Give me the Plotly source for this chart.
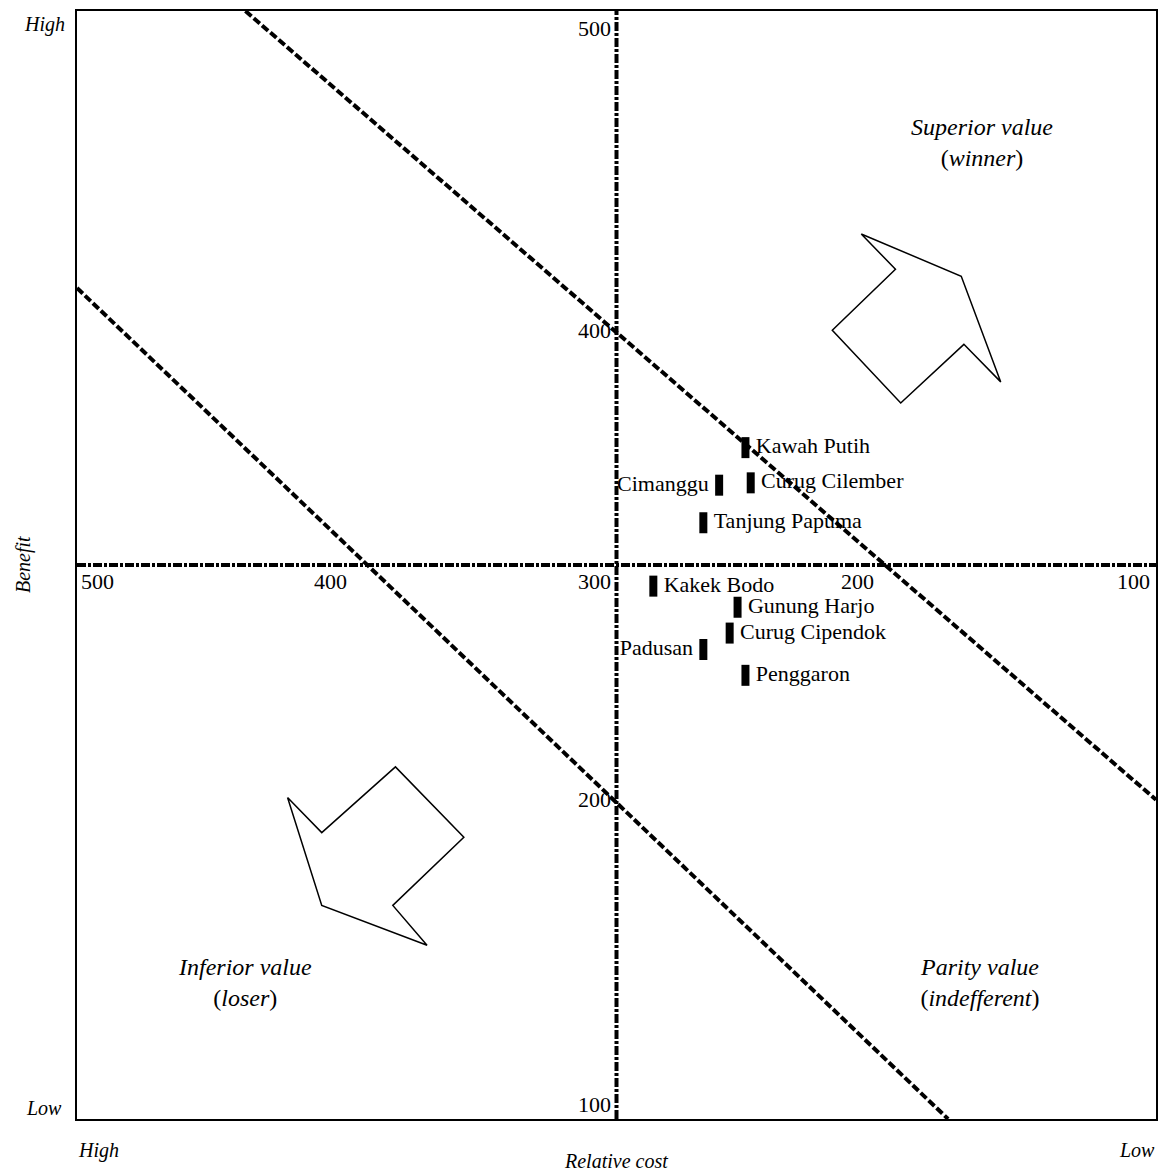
import plotly.graph_objects as go

# ---- data ----
sites = ["Kawah Putih", "Cimanggu", "Curug Cilember", "Tanjung Papuma", "Kakek Bodo",
         "Gunung Harjo", "Curug Cipendok", "Padusan", "Penggaron"]
cost = [251, 261, 249, 267, 286, 254, 257, 267, 251]
benefit = [350, 334, 335, 318, 291, 282, 271, 264, 253]
label_side = ["middle right", "middle left", "middle right", "middle right", "middle right",
              "middle right", "middle right", "middle left", "middle right"]

# value-equivalence band lines
upper_line_cost = [441, 95]
upper_line_benefit = [536, 200]
lower_line_cost = [505, 174]
lower_line_benefit = [418, 64]

# arrows (outline polygons)
win_arrow_cost = [207, 194, 218, 192, 168, 154, 169, 207]
win_arrow_benefit = [441, 426, 400, 369, 394, 378, 423, 441]
lose_arrow_cost = [425, 412, 384, 358, 385, 372, 412, 425]
lose_arrow_benefit = [201, 186, 214, 184, 155, 138, 155, 201]

x_ticks = [500, 400, 300, 200, 100]
y_ticks = [500, 400, 200, 100]
center_cost = 300
center_benefit = 300
x_range = [505, 95]
y_range = [64, 536]

FONT = "Liberation Serif"

fig = go.Figure()

# crosshair
fig.add_trace(go.Scatter(x=[center_cost, center_cost], y=y_range, mode="lines",
                         line=dict(color="black", width=4, dash="9px,2px,3px,2px"),
                         hoverinfo="skip", showlegend=False))
fig.add_trace(go.Scatter(x=x_range, y=[center_benefit, center_benefit], mode="lines",
                         line=dict(color="black", width=4, dash="9px,2px,3px,2px"),
                         hoverinfo="skip", showlegend=False))

# diagonal lines
for xs, ys in [(upper_line_cost, upper_line_benefit), (lower_line_cost, lower_line_benefit)]:
    fig.add_trace(go.Scatter(x=xs, y=ys, mode="lines",
                             line=dict(color="black", width=4, dash="8px,3px"),
                             hoverinfo="skip", showlegend=False))

# arrows
for xs, ys in [(win_arrow_cost, win_arrow_benefit), (lose_arrow_cost, lose_arrow_benefit)]:
    fig.add_trace(go.Scatter(x=xs, y=ys, mode="lines",
                             line=dict(color="black", width=1.5),
                             hoverinfo="skip", showlegend=False))

# points
fig.add_trace(go.Scatter(
    x=cost, y=benefit, mode="markers+text", text=sites, textposition=label_side,
    marker=dict(symbol="line-ns", size=15, color="black", line=dict(color="black", width=8)),
    textfont=dict(family=FONT, size=22, color="black"),
    showlegend=False))

ann = []
# x tick labels (on horizontal crosshair)
for v in x_ticks:
    if v == x_ticks[0]:
        ann.append(dict(x=x_range[0], y=center_benefit, text=str(v), xanchor="left", yanchor="top",
                        xshift=2, yshift=-2, showarrow=False))
    elif v == x_ticks[-1]:
        ann.append(dict(x=x_range[1], y=center_benefit, text=str(v), xanchor="right", yanchor="top",
                        xshift=-4, yshift=-2, showarrow=False))
    else:
        ann.append(dict(x=v, y=center_benefit, text=str(v), xanchor="right", yanchor="top",
                        xshift=-4, yshift=-2, showarrow=False))
# y tick labels (on vertical crosshair)
for v in y_ticks:
    if v == y_ticks[0]:
        ann.append(dict(x=center_cost, y=y_range[1], text=str(v), xanchor="right", yanchor="top",
                        xshift=-4, yshift=-3, showarrow=False))
    elif v == y_ticks[-1]:
        ann.append(dict(x=center_cost, y=y_range[0], text=str(v), xanchor="right", yanchor="bottom",
                        xshift=-4, yshift=0, showarrow=False))
    else:
        ann.append(dict(x=center_cost, y=v, text=str(v), xanchor="right", yanchor="middle",
                        xshift=-4, showarrow=False))
for a in ann:
    a["font"] = dict(family=FONT, size=22, color="black")

# quadrant labels
quad = [
    (161, 480, "<i>Superior value</i><br>(<i>winner</i>)"),
    (441, 122, "<i>Inferior value</i><br>(<i>loser</i>)"),
    (162, 122, "<i>Parity value</i><br>(<i>indefferent</i>)"),
]
for x, y, t in quad:
    ann.append(dict(x=x, y=y, text=t, showarrow=False, xanchor="center", yanchor="middle",
                    font=dict(family=FONT, size=24, color="black")))

# corner / axis labels (paper coords)
side = [
    (-0.009, 0.988, "<i>High</i>", "right", "middle", 0),
    (-0.012, 0.01, "<i>Low</i>", "right", "middle", 0),
    (0.02, -0.028, "<i>High</i>", "center", "middle", 0),
    (0.982, -0.028, "<i>Low</i>", "center", "middle", 0),
    (0.4995, -0.038, "<i>Relative cost</i>", "center", "middle", 0),
    (-0.05, 0.5, "<i>Benefit</i>", "center", "middle", -90),
]
for x, y, t, xa, ya, ang in side:
    ann.append(dict(x=x, y=y, xref="paper", yref="paper", text=t, showarrow=False,
                    xanchor=xa, yanchor=ya, textangle=ang,
                    font=dict(family=FONT, size=20, color="black")))

fig.update_layout(
    width=1163, height=1171,
    margin=dict(l=77, r=5, t=11, b=52),
    paper_bgcolor="white", plot_bgcolor="white",
    annotations=ann,
    xaxis=dict(range=x_range, showgrid=False, zeroline=False, showticklabels=False,
               ticks="", showline=True, mirror=True, linecolor="black", linewidth=2),
    yaxis=dict(range=y_range, showgrid=False, zeroline=False, showticklabels=False,
               ticks="", showline=True, mirror=True, linecolor="black", linewidth=2),
    showlegend=False,
)

fig.write_html("out.html", config={"displayModeBar": False},
               post_script="document.body.style.margin='0';document.body.style.overflow='hidden';")
